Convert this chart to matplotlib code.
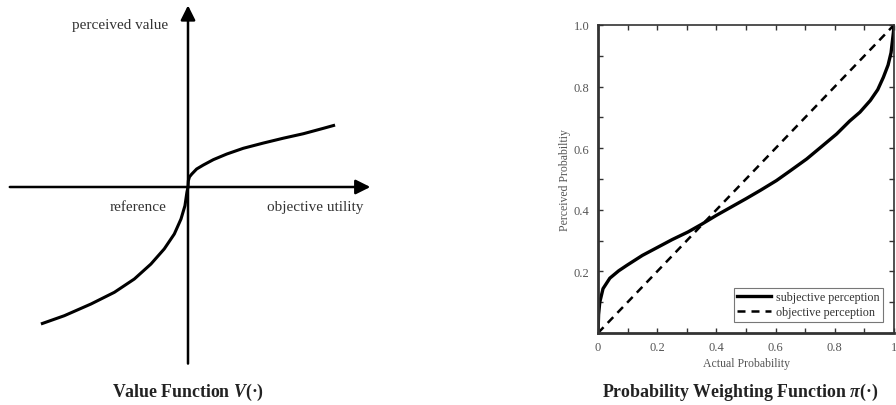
import matplotlib
matplotlib.use('Agg')
import matplotlib.pyplot as plt
from matplotlib.ticker import MultipleLocator, FuncFormatter

plt.rcParams['font.family'] = ['Liberation Serif', 'DejaVu Serif']
plt.rcParams['mathtext.fontset'] = 'custom'
plt.rcParams['mathtext.rm'] = 'Liberation Serif'
plt.rcParams['mathtext.it'] = 'Liberation Serif:italic'
plt.rcParams['mathtext.bf'] = 'Liberation Serif:bold'
plt.rcParams['mathtext.bfit'] = 'Liberation Serif:italic:bold'

# value function (origin = reference point)
gain_x = [0.0, 0.002, 0.008, 0.021, 0.048, 0.085, 0.141, 0.215, 0.307, 0.418, 0.529, 0.641, 0.752, 0.817]
gain_y = [0.0, 0.035, 0.056, 0.072, 0.100, 0.122, 0.152, 0.183, 0.215, 0.244, 0.271, 0.296, 0.326, 0.344]
loss_x = [0.0, -0.006, -0.017, -0.039, -0.076, -0.132, -0.206, -0.298, -0.409, -0.539, -0.687, -0.817]
loss_y = [0.0, -0.029, -0.104, -0.178, -0.261, -0.344, -0.428, -0.511, -0.585, -0.650, -0.715, -0.761]

# probability weighting function
actual_p = [0.0, 0.002, 0.006, 0.017, 0.04, 0.07, 0.098, 0.15, 0.203, 0.25, 0.304, 0.35,
            0.40, 0.45, 0.50, 0.55, 0.603, 0.65, 0.705, 0.75, 0.806, 0.85, 0.885, 0.92,
            0.945, 0.964, 0.98, 0.99, 0.998, 1.0]
perceived_p = [0.0, 0.06, 0.10, 0.144, 0.178, 0.202, 0.22, 0.252, 0.279, 0.303, 0.328, 0.353,
               0.382, 0.409, 0.436, 0.464, 0.495, 0.527, 0.565, 0.601, 0.646, 0.688, 0.717, 0.755,
               0.79, 0.83, 0.87, 0.91, 0.976, 1.0]
diag = [0.0, 1.0]

fig = plt.figure(figsize=(8.96, 4.06), dpi=100)

# ---- left: value function sketch ----
ax1 = fig.add_axes([0, 36 / 406, 380 / 896, 370 / 406])
ax1.set_xlim(-188 / 180, 192 / 180)
ax1.set_ylim(-182 / 180, 188 / 180)
ax1.axis('off')
arrow = dict(arrowstyle='-|>', lw=1.8, color='black', mutation_scale=22, shrinkA=0, shrinkB=0)
ax1.annotate('', xy=(1.013, 0), xytext=(-0.99, 0), arrowprops=arrow)
ax1.annotate('', xy=(0, 1.009), xytext=(0, -0.981), arrowprops=arrow)
ax1.plot(gain_x, gain_y, color='black', lw=2.2, solid_capstyle='butt', solid_joinstyle='round')
ax1.plot(loss_x, loss_y, color='black', lw=2.2, solid_capstyle='butt', solid_joinstyle='round')
txt = dict(fontsize=11, color='#333333', ha='center', va='center')
ax1.text(-0.38, 0.905, 'perceived value', **txt)
ax1.text(-0.277, -0.11, 'reference', **txt)
ax1.text(0.705, -0.11, 'objective utility', **txt)
fig.text(188 / 896, 1 - 392 / 406, r'Value Function $\mathbfit{V}$(·)', fontsize=12.8,
         fontweight='bold', ha='center', va='center', color='#222222')

# ---- right: probability weighting function ----
ax2 = fig.add_axes([598 / 896, 72 / 406, 296 / 896, 308 / 406])
ax2.plot(actual_p, perceived_p, color='black', lw=2.4, label='subjective perception')
ax2.plot(diag, diag, color='black', lw=1.8, linestyle=(0, (3.2, 2.4)), label='objective perception')
ax2.set_xlim(0, 1)
ax2.set_ylim(0, 1)
ax2.xaxis.set_major_locator(MultipleLocator(0.1))
ax2.yaxis.set_major_locator(MultipleLocator(0.1))


def xfmt(v, pos):
    k = int(round(v * 10))
    if k % 2:
        return ''
    return {0: '0', 10: '1'}.get(k, f'{v:.1f}')


def yfmt(v, pos):
    k = int(round(v * 10))
    if k % 2 or k == 0:
        return ''
    return f'{v:.1f}'


ax2.xaxis.set_major_formatter(FuncFormatter(xfmt))
ax2.yaxis.set_major_formatter(FuncFormatter(yfmt))
ax2.tick_params(direction='in', length=3.5, width=1, top=True, right=True,
                labelsize=9, labelcolor='#555555', color='#333333', pad=6)
for side in ['left', 'bottom']:
    ax2.spines[side].set_linewidth(2)
for side in ['top', 'right']:
    ax2.spines[side].set_linewidth(1.2)
for s in ax2.spines.values():
    s.set_color('#333333')
ax2.set_xlabel('Actual Probability', fontsize=8.5, color='#555555', labelpad=3)
ax2.set_ylabel('Perceived Probabiltiy', fontsize=8.5, color='#555555', labelpad=2)
leg = ax2.legend(loc='lower right', fontsize=8.7, frameon=True, fancybox=False,
                 edgecolor='#555555', handlelength=2.8, borderaxespad=0.9,
                 borderpad=0.3, labelspacing=0.25, handletextpad=0.4)
leg.get_frame().set_linewidth(0.8)
for t in leg.get_texts():
    t.set_color('#333333')
fig.text(740 / 896, 1 - 392 / 406, r'Probability Weighting Function $\mathbfit{\pi}$(·)', fontsize=12.9,
         fontweight='bold', ha='center', va='center', color='#222222')

fig.savefig('out.png', dpi=100, facecolor='white')
